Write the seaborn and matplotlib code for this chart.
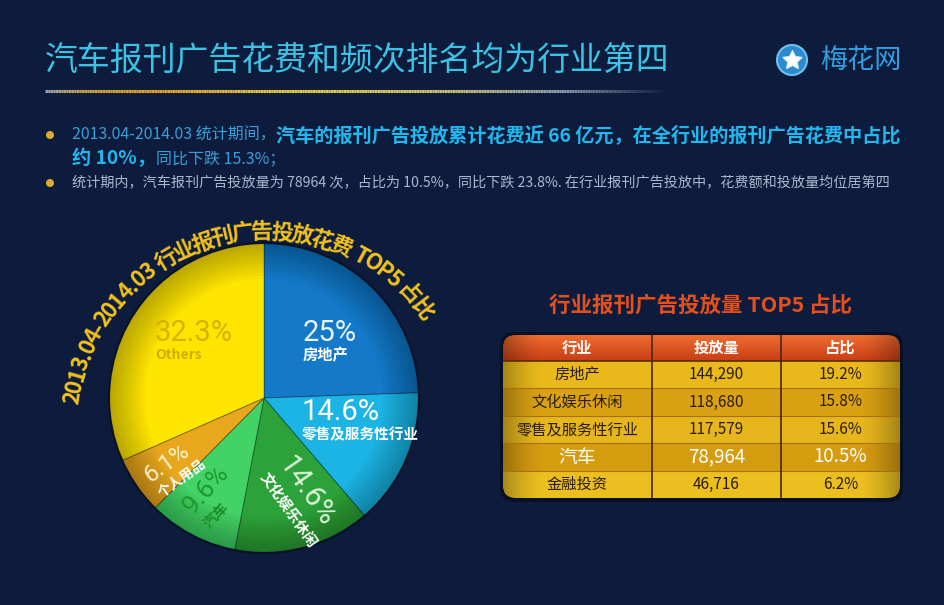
import numpy as np
import pandas as pd
import matplotlib
matplotlib.use("Agg")
import matplotlib.pyplot as plt
import seaborn as sns
from matplotlib.patches import Circle, Wedge, Rectangle, FancyBboxPatch
from matplotlib.collections import LineCollection
from matplotlib.colors import LinearSegmentedColormap, to_rgb

# ---------------- data ----------------
title_text = "汽车报刊广告花费和频次排名均为行业第四"
logo_text = "梅花网"
bullet1_regular = "2013.04-2014.03 统计期间，"
bullet1_bold = "汽车的报刊广告投放累计花费近 66 亿元，在全行业的报刊广告花费中占比"
bullet2_bold = "约 10%，"
bullet2_regular = "同比下跌 15.3%；"
bullet3_regular = "统计期内，汽车报刊广告投放量为 78964 次，占比为 10.5%，同比下跌 23.8%. 在行业报刊广告投放中，花费额和投放量均位居第四"

pie_title = "2013.04-2014.03 行业报刊广告投放花费 TOP5 占比"
pie_categories = ["房地产", "零售及服务性行业", "文化娱乐休闲", "汽车", "个人用品", "Others"]
pie_shares = [25.0, 14.6, 14.6, 9.6, 6.1, 32.3]
pie_share_labels = ["25%", "14.6%", "14.6%", "9.6%", "6.1%", "32.3%"]

table_title = "行业报刊广告投放量 TOP5 占比"
table_header = ["行业", "投放量", "占比"]
table_industries = ["房地产", "文化娱乐休闲", "零售及服务性行业", "汽车", "金融投资"]
table_volumes = [144290, 118680, 117579, 78964, 46716]
table_shares = [19.2, 15.8, 15.6, 10.5, 6.2]
highlight_industry = "汽车"

# ---------------- style ----------------
W, H = 945, 605
BG = "#0d1c3d"
sns.set_theme(style="white")
plt.rcParams["font.family"] = ["Noto Sans CJK SC", "DejaVu Sans"]
PCT_FAMILY = ["Roboto", "Noto Sans CJK SC", "DejaVu Sans"]

slice_colors = ["#1479c9", "#1cb4e4", "#2ea23a", "#43d266", "#e9a71e", "#ffe600"]
label_r = [0.489, 0.26, 0.414, 0.873, 0.914, 0.819]
label_dang = [13.0, 3.5, 3.4, -6.4, -0.1, 2.3]
label_rot = [0, 0, -55, 48, 36, 0]
pct_size = [21, 21, 21, 19, 17, 21]
name_size = [11, 10.5, 10.5, 10.5, 10, 10]
pct_color = ["#eaf4ff", "#ffffff", "#d8f5d8", "#1d9a2e", "#fff2c8", "#d4b300"]
name_color = ["white", "white", "white", "#1d8f2a", "white", "#cfac00"]
name_gap = [22, 22, 26, 24, 21, 22]

fig = plt.figure(figsize=(W / 100, H / 100), dpi=100, facecolor=BG)
bg = fig.add_axes([0, 0, 1, 1])
bg.set_xlim(0, W)
bg.set_ylim(H, 0)
bg.axis("off")
renderer = fig.canvas.get_renderer()

# ---------------- title + underline + logo ----------------
bg.text(45, 62, title_text, fontsize=23.7, color="#3cc2e4", va="center", ha="left",
        fontweight="light")

stops_x = [45, 80, 150, 300, 450, 560, 665]
stops_c = ["#9aa0a8", "#c8a040", "#e8a020", "#e6cf40", "#c8c070", "#8a9aa8", BG]
xs = np.linspace(45, 665, 240)
cols = np.array([[np.interp(x, stops_x, [to_rgb(c)[k] for c in stops_c]) for k in range(3)] for x in xs])
segs = [[(xs[i], 91), (xs[i + 1], 91)] for i in range(len(xs) - 1)]
bg.add_collection(LineCollection(segs, colors=cols[:-1], linewidths=2.2))

bg.add_patch(Circle((792, 60), 15, facecolor="#2b8bd0", edgecolor="#6cc0f0", lw=1.5))
bg.plot([792], [60], marker=(5, 1, 0), ms=15, color="white", mec="#cfe8f8", mew=0.5)
bg.text(820, 60, logo_text, fontsize=19.5, color="#2f9fe0", va="center", ha="left")

# ---------------- bullets ----------------
REG = dict(fontsize=11.5, color="#3a9fd6")
REG3 = dict(fontsize=10.2, color="#a9b8cc")
BOLD = dict(fontsize=13.8, color="#20b8ee", fontweight="bold")


def draw_segments(x0, y, segments):
    x = x0
    for txt, kw in segments:
        t = bg.text(x, y, txt, va="center", ha="left", **kw)
        bb = t.get_window_extent(renderer=renderer)
        x += bb.width


for yy in (135, 183):
    bg.add_patch(Circle((50, yy), 3.3, color="#e2aa2a"))
draw_segments(72, 135, [(bullet1_regular, REG), (bullet1_bold, BOLD)])
draw_segments(72, 159, [(bullet2_bold, BOLD), (bullet2_regular, REG)])
draw_segments(72, 183, [(bullet3_regular, REG3)])

# ---------------- pie ----------------
cx, cy, R = 264, 398, 155
half = 215
ax_p = fig.add_axes([(cx - half) / W, (H - cy - half) / H, 2 * half / W, 2 * half / H])
wedges, _ = ax_p.pie(pie_shares, radius=R, startangle=90, counterclock=False,
                     colors=slice_colors,
                     wedgeprops=dict(edgecolor=(0, 0, 0, 0.25), linewidth=0.8))
for k in range(12):
    ax_p.add_patch(Wedge((0, 0), R, 0, 360, width=3 * (k + 1), facecolor="black",
                         alpha=0.025, lw=0))
ax_p.add_patch(Circle((0, 0), R, facecolor="none", edgecolor="#0a1226", lw=1.5))
ax_p.set_xlim(-half, half)
ax_p.set_ylim(-half, half)
ax_p.set_aspect("equal")
ax_p.axis("off")

for i, w in enumerate(wedges):
    mid = 0.5 * (w.theta1 + w.theta2) + label_dang[i]
    r = label_r[i] * R
    px, py = r * np.cos(np.radians(mid)), r * np.sin(np.radians(mid))
    th = np.radians(label_rot[i])
    ax_p.text(px, py, pie_share_labels[i], fontsize=pct_size[i], color=pct_color[i],
              family=PCT_FAMILY, fontweight="normal", rotation=label_rot[i],
              rotation_mode="anchor", ha="left", va="center")
    nx, ny = px + name_gap[i] * np.sin(th), py - name_gap[i] * np.cos(th)
    ax_p.text(nx, ny, pie_categories[i], fontsize=name_size[i], color=name_color[i],
              fontweight="bold", rotation=label_rot[i], rotation_mode="anchor",
              ha="left", va="center")

# curved title
arc_cx, arc_cy, arc_r = 2.3, -30.6, 196
a_start, a_end = 171.0, 37.3
fs = 16
widths = []
for ch in pie_title:
    if ch == " ":
        widths.append(0.28 * fs * 100 / 72)
        continue
    t = ax_p.text(0, 0, ch, fontsize=fs, fontweight="bold")
    widths.append(t.get_window_extent(renderer=renderer).width)
    t.remove()
widths = np.array(widths)
centers = np.cumsum(widths) - widths / 2
frac = (centers - centers[0]) / (centers[-1] - centers[0])
for ch, f in zip(pie_title, frac):
    if ch == " ":
        continue
    ang = a_start - f * (a_start - a_end)
    x = arc_cx + arc_r * np.cos(np.radians(ang))
    y = arc_cy + arc_r * np.sin(np.radians(ang))
    ax_p.text(x, y, ch, fontsize=fs, fontweight="bold", color="#f2c21c",
              rotation=ang - 90, rotation_mode="anchor", ha="center", va="center")

# ---------------- table ----------------
bg.text(701, 305, table_title, fontsize=15.5, fontweight="bold", color="#e2501e",
        ha="center", va="center")
bg.add_patch(FancyBboxPatch((500, 332), 403, 170, boxstyle="round,pad=0,rounding_size=15",
                            facecolor="#050b1a", edgecolor="none", alpha=0.7))

TL, TT, TW, TH = 503, 335, 397, 163
ax_t = fig.add_axes([TL / W, (H - TT - TH) / H, TW / W, TH / H])
col_edges = [0, 149, 278, 397]
row_edges = [0, 26, 53, 81, 108, 136, 163]
row_colors = ["#e9b91c", "#d9a113", "#e6b61c", "#d69c10", "#ebbf20"]

clip = FancyBboxPatch((0, 0), TW, TH, boxstyle="round,pad=0,rounding_size=13",
                      facecolor="none", edgecolor="none", transform=ax_t.transData)
ax_t.add_patch(clip)

hdr_cmap = LinearSegmentedColormap.from_list("hdr", ["#f06c2e", "#c83e16"])
im = ax_t.imshow(np.linspace(0, 1, 50).reshape(-1, 1), cmap=hdr_cmap, aspect="auto",
                 extent=(0, TW, row_edges[1], 0), zorder=1)
im.set_clip_path(clip)
for i, c in enumerate(row_colors):
    rect = Rectangle((0, row_edges[i + 1]), TW, row_edges[i + 2] - row_edges[i + 1],
                     facecolor=c, edgecolor="none", zorder=1)
    ax_t.add_patch(rect)
    rect.set_clip_path(clip)

shade = np.zeros((1, 200, 4))
xx = np.linspace(-1, 1, 200)
shade[0, :, 3] = 0.28 * np.clip((np.abs(xx) - 0.8) / 0.2, 0, 1) ** 1.5
ims = ax_t.imshow(shade, aspect="auto", extent=(0, TW, TH, 0), zorder=2)
ims.set_clip_path(clip)

for yb in row_edges[2:-1]:
    ax_t.plot([0, TW], [yb, yb], color="#a8700c", lw=0.8, zorder=3)
ax_t.plot([0, TW], [row_edges[1], row_edges[1]], color="#5a2a08", lw=1.2, zorder=3)
for xb in col_edges[1:-1]:
    ax_t.plot([xb, xb], [0, TH], color="#4a2508", lw=1.2, zorder=3)

col_centers = [(col_edges[j] + col_edges[j + 1]) / 2 for j in range(3)]
for j, h in enumerate(table_header):
    ax_t.text(col_centers[j], row_edges[1] / 2, h, fontsize=11, fontweight="bold",
              color="white", ha="center", va="center", zorder=4)

df = pd.DataFrame({"industry": table_industries, "volume": table_volumes, "share": table_shares})
for i, row in df.iterrows():
    yc = (row_edges[i + 1] + row_edges[i + 2]) / 2
    hl = row["industry"] == highlight_industry
    kw = dict(fontsize=13.5 if hl else 11, color="white" if hl else "#2a1c06",
              ha="center", va="center", zorder=4)
    vals = [row["industry"], f"{int(row['volume']):,}", f"{row['share']}%"]
    for j, v in enumerate(vals):
        ax_t.text(col_centers[j], yc, v, **kw)

ax_t.set_xlim(0, TW)
ax_t.set_ylim(TH, 0)
ax_t.axis("off")

fig.savefig("out.png", dpi=100, facecolor=BG)
